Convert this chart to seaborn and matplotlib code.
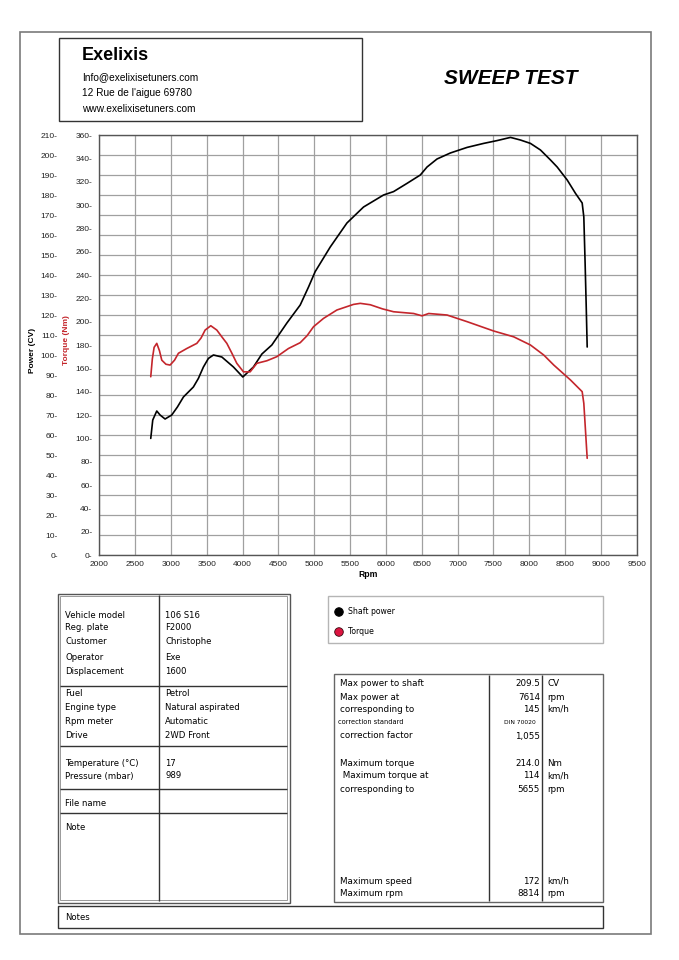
import matplotlib
matplotlib.use("Agg")
import matplotlib.pyplot as plt
from matplotlib.patches import Rectangle, Circle
from matplotlib.ticker import FuncFormatter
import seaborn as sns
import pandas as pd

# ---------------- data ----------------
power_rpm = [2718, 2746, 2802, 2848, 2918, 3011, 3090, 3174, 3313, 3383, 3453, 3523,
             3593, 3710, 3872, 4003, 4151, 4269, 4408, 4618, 4804, 4920, 5013, 5223,
             5456, 5688, 5967, 6107, 6294, 6480, 6574, 6713, 6899, 7133, 7364, 7551,
             7738, 7877, 8017, 8157, 8297, 8390, 8530, 8646, 8739, 8762, 8780, 8795, 8809]
power_cv = [58.3, 67.5, 72.0, 70.0, 68.0, 70.0, 74.0, 79.0, 84.0, 88.3, 94.0, 98.3,
            100.0, 99.0, 94.0, 89.0, 94.0, 100.5, 105.0, 116.0, 125.0, 134.0, 141.7, 154.0,
            166.0, 174.0, 180.0, 181.7, 185.8, 190.0, 194.0, 198.0, 201.0, 203.8, 205.8, 207.2,
            208.8, 207.5, 205.8, 202.5, 197.5, 194.0, 187.5, 180.8, 176.0, 169.0, 146.0, 125.0, 104.0]

torque_rpm = [2718, 2740, 2765, 2802, 2840, 2872, 2930, 2988, 3050, 3104, 3221, 3361,
              3420, 3477, 3556, 3640, 3710, 3780, 3850, 3919, 4012, 4105, 4199, 4339,
              4478, 4640, 4804, 4900, 4990, 5129, 5316, 5548, 5642, 5782, 5950, 6107,
              6387, 6504, 6597, 6853, 7133, 7504, 7784, 8017, 8203, 8343, 8576, 8739,
              8762, 8785, 8809]
torque_nm = [152.8, 168.0, 178.0, 181.4, 175.0, 167.0, 163.5, 162.8, 167.0, 172.9, 177.0, 181.4,
             186.0, 192.8, 196.5, 192.8, 187.0, 181.4, 173.0, 164.3, 157.0, 157.0, 164.3, 166.5,
             170.0, 177.0, 182.0, 188.0, 195.7, 202.8, 210.0, 214.8, 215.7, 214.5, 211.0, 208.5,
             207.0, 205.0, 207.0, 205.7, 200.0, 192.0, 187.0, 180.0, 171.4, 162.8, 150.0, 140.0,
             130.0, 107.0, 82.9]

rpm_ticks = list(range(2000, 9501, 500))
power_ticks = list(range(0, 211, 10))
torque_ticks = list(range(0, 361, 20))

series_names = ["Shaft power", "Torque"]

vehicle_labels = ["Vehicle model", "Reg. plate", "Customer", "Operator", "Displacement",
                  "Fuel", "Engine type", "Rpm meter", "Drive",
                  "Temperature (°C)", "Pressure (mbar)", "File name", "Note"]
vehicle_values = ["106 S16", "F2000", "Christophe", "Exe", "1600",
                  "Petrol", "Natural aspirated", "Automatic", "2WD Front",
                  "17", "989", "", ""]

result_labels = ["Max power to shaft", "Max power at", "corresponding to", "correction standard",
                 "correction factor", "Maximum torque", " Maximum torque at", "corresponding to",
                 "Maximum speed", "Maximum rpm"]
result_values = ["209.5", "7614", "145", "DIN 70020", "1,055", "214.0", "114", "5655", "172", "8814"]
result_units = ["CV", "rpm", "km/h", "", "", "Nm", "km/h", "rpm", "km/h", "rpm"]

# ---------------- styling ----------------
sns.set_style("white")
plt.rcParams["font.family"] = ["Liberation Sans", "DejaVu Sans"]
plt.rcParams["text.color"] = "black"
plt.rcParams["axes.labelcolor"] = "black"

W, H = 679, 960
fig = plt.figure(figsize=(W / 100, H / 100), dpi=100)
fig.patch.set_facecolor("white")

BLACK = "#000000"
RED = "#c4262c"
TICK_COLOR = "#222222"

# ---------------- chart ----------------
L, R, T, B = 99.3, 636.7, 135.0, 555.0
ax = fig.add_axes([L / W, 1 - B / H, (R - L) / W, (B - T) / H])
ax2 = ax.twinx()

dfp = pd.DataFrame({"rpm": power_rpm, "value": power_cv})
dft = pd.DataFrame({"rpm": torque_rpm, "value": torque_nm})

sns.lineplot(data=dfp, x="rpm", y="value", ax=ax, color=BLACK, lw=1.2,
             estimator=None, sort=False, zorder=3)
sns.lineplot(data=dft, x="rpm", y="value", ax=ax2, color=RED, lw=1.2,
             estimator=None, sort=False, zorder=3)

ax.set_xlim(2000, 9500)
ax.set_ylim(0, 210)
ax2.set_ylim(0, 360)
ax.set_xticks(rpm_ticks)
ax.set_yticks(power_ticks)
ax2.set_yticks(torque_ticks)

ax.grid(True, which="major", color="#a0a0a0", lw=0.9)
ax.set_axisbelow(True)

dash_fmt = FuncFormatter(lambda v, p: f"{int(round(v))}-")
ax.yaxis.set_major_formatter(dash_fmt)
ax2.yaxis.set_major_formatter(dash_fmt)

ax2.yaxis.tick_left()
ax2.yaxis.set_label_position("left")

ax.spines["left"].set_position(("outward", 29))
ax.spines["left"].set_visible(False)
for s in ["top", "right", "bottom"]:
    ax.spines[s].set_color("#555555")
    ax.spines[s].set_linewidth(1.0)
ax2.spines["left"].set_color("#555555")
ax2.spines["left"].set_linewidth(1.0)
for s in ["top", "right", "bottom"]:
    ax2.spines[s].set_visible(False)

ax.tick_params(axis="y", length=0, pad=1, labelsize=6, labelcolor=TICK_COLOR)
ax2.tick_params(axis="y", length=0, pad=5, labelsize=6, labelcolor=TICK_COLOR)
ax.tick_params(axis="x", length=0, pad=4, labelsize=6, labelcolor=TICK_COLOR)

ax.set_xlabel("Rpm", fontsize=6.2, fontweight="bold", labelpad=2)
ax.set_ylabel("")
ax2.set_ylabel("")

# ---------------- page overlay ----------------
ov = fig.add_axes([0, 0, 1, 1], zorder=-1)
ov.set_xlim(0, W)
ov.set_ylim(H, 0)
ov.axis("off")
ov.patch.set_alpha(0)

def box(x0, y0, x1, y1, ec="#333333", lw=1.0):
    ov.add_patch(Rectangle((x0, y0), x1 - x0, y1 - y0, fill=False, edgecolor=ec, lw=lw))

def hline(x0, x1, y, c="#333333", lw=1.0):
    ov.plot([x0, x1], [y, y], color=c, lw=lw, solid_capstyle="butt")

def vline(x, y0, y1, c="#333333", lw=1.0):
    ov.plot([x, x], [y0, y1], color=c, lw=lw, solid_capstyle="butt")

# page border
box(20, 32, 651, 934, ec="#7a7a7a", lw=1.2)

# header
box(59, 38, 362, 121, ec="#333333", lw=1.0)
ov.text(82, 55, "Exelixis", fontsize=13, fontweight="bold", va="center", ha="left",
        family="Liberation Sans", color="black")
for yy, txt in zip([77, 93, 109], ["Info@exelixisetuners.com", "12 Rue de l'aigue 69780",
                                   "www.exelixisetuners.com"]):
    ov.text(82, yy, txt, fontsize=7.3, va="center", ha="left", family="Liberation Sans",
            color="black")
ov.text(511, 79, "SWEEP TEST", fontsize=15, fontweight="bold", style="italic",
        va="center", ha="center", family="Liberation Sans", color="black")

# y-axis titles
ov.text(33, 350, "Power (CV)", rotation=90, fontsize=6, fontweight="bold", va="center",
        ha="center", color=BLACK, family="Liberation Sans")
ov.text(67, 340, "Torque (Nm)", rotation=90, fontsize=6, fontweight="bold", va="center",
        ha="center", color=RED, family="Liberation Sans")

# legend
box(328, 596, 603, 643, ec="#b5b5b5", lw=1.0)
ov.add_patch(Circle((339, 612), 4.3, facecolor="#000000", edgecolor="#000000", lw=0.6))
ov.add_patch(Circle((339, 632), 4.3, facecolor="#dc1440", edgecolor="#3a0a10", lw=0.6))
ov.text(348, 612, series_names[0], fontsize=5.6, va="center", ha="left", family="DejaVu Sans",
        color="black")
ov.text(348, 632, series_names[1], fontsize=5.6, va="center", ha="left", family="DejaVu Sans",
        color="black")

# left table
box(58, 594, 290, 903, ec="#555555", lw=1.0)
box(60, 596, 287, 900, ec="#999999", lw=0.7)
vline(159, 595, 901, c="#333333", lw=1.0)
for yy in [686, 746, 789, 813]:
    hline(60, 287, yy, c="#333333", lw=1.0)
row_y = [615, 628, 642, 657, 671, 693, 707, 721, 735, 763, 776, 804, 827]
for yy, lab, val in zip(row_y, vehicle_labels, vehicle_values):
    ov.text(65, yy, lab, fontsize=6.1, va="center", ha="left", family="DejaVu Sans",
            color="black")
    if val:
        ov.text(165, yy, val, fontsize=6.1, va="center", ha="left", family="DejaVu Sans",
                color="black")

# right table
box(334, 674, 603, 902, ec="#666666", lw=1.0)
vline(489, 675, 901, c="#333333", lw=1.0)
vline(542, 675, 901, c="#333333", lw=1.0)
res_y = [683, 697, 709, 722, 736, 763, 776, 789, 881, 893]
for yy, lab, val, unit in zip(res_y, result_labels, result_values, result_units):
    small = (lab == "correction standard")
    fs = 4.8 if small else 6.3
    xl = 338 if small else 340
    ov.text(xl, yy, lab, fontsize=fs, va="center", ha="left", family="DejaVu Sans",
            color="black")
    vfs = 4.3 if val == "DIN 70020" else 6.3
    xv = 536 if val == "DIN 70020" else 540
    ov.text(xv, yy, val, fontsize=vfs, va="center", ha="right", family="DejaVu Sans",
            color="black")
    if unit:
        ov.text(547, yy, unit, fontsize=6.3, va="center", ha="left", family="DejaVu Sans",
                color="black")

# notes box
box(58, 906, 603, 928, ec="#333333", lw=1.0)
ov.text(65, 917, "Notes", fontsize=6.1, va="center", ha="left", family="DejaVu Sans",
        color="black")

fig.savefig("out.png", dpi=100, facecolor="white")
